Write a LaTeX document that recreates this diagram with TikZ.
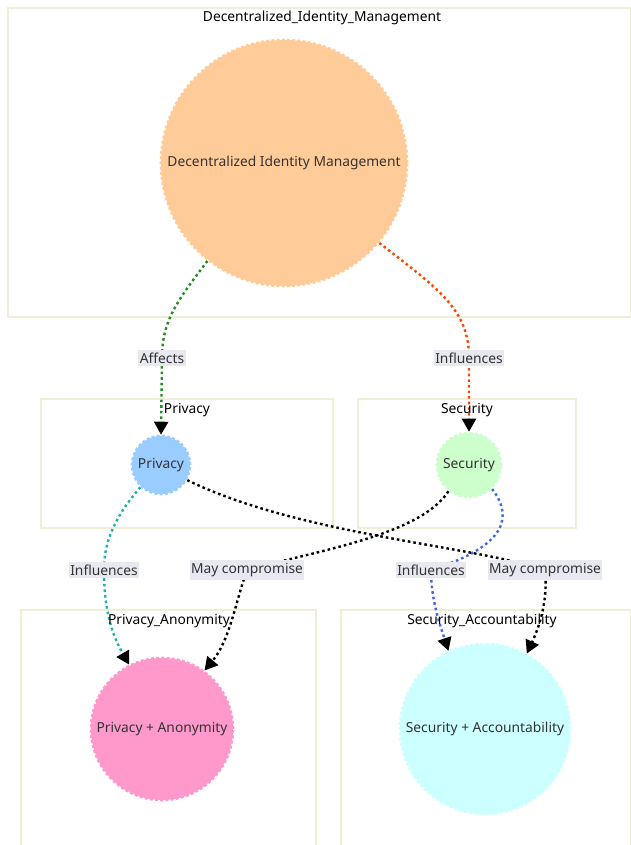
\documentclass[tikz,border=0pt]{standalone}
\usepackage{fontspec}
\setmainfont{Noto Sans}
\usetikzlibrary{arrows.meta}
\pgfdeclarelayer{background}
\pgfsetlayers{background,main}
\definecolor{clusterline}{RGB}{240,238,214}
\definecolor{labelbg}{RGB}{232,232,240}
\definecolor{txt}{RGB}{51,51,51}
\definecolor{peach}{RGB}{255,204,153}
\definecolor{skyblue}{RGB}{153,204,255}
\definecolor{mint}{RGB}{204,255,204}
\definecolor{pinkfill}{RGB}{255,153,204}
\definecolor{cyanfill}{RGB}{204,255,255}
\definecolor{edgegreen}{RGB}{34,139,34}
\definecolor{edgeorange}{RGB}{255,69,0}
\definecolor{edgeteal}{RGB}{32,178,170}
\definecolor{edgeblue}{RGB}{65,105,225}
\tikzset{
  cluster/.style={draw=clusterline, line width=1.2pt},
  ctitle/.style={text=black, font=\fontsize{13.8}{16}\selectfont, inner sep=0pt},
  blob/.style={circle, inner sep=0pt, draw=#1, fill=#1, line width=2.6pt,
    dash pattern=on 3pt off 2.2pt, text=txt, font=\fontsize{13.8}{16}\selectfont},
  elabel/.style={fill=labelbg, text=txt, font=\fontsize{13.8}{16}\selectfont,
    inner xsep=1.5pt, inner ysep=3pt},
  link/.style={draw=#1, line width=2.4pt, dash pattern=on 2.6pt off 3pt,
    -{Triangle[length=13pt,width=14pt,color=black]}},
}
\begin{document}
\begin{tikzpicture}[x=1pt,y=-1pt]
\useasboundingbox (0,0) rectangle (631,845);

% nodes
\node[blob=peach, minimum size=246pt] (dim) at (284,163) {Decentralized Identity Management};
\node[blob=skyblue, minimum size=58pt] (priv) at (161,465) {Privacy};
\node[blob=mint, minimum size=64pt] (sec) at (469,465) {Security};
\node[blob=pinkfill, minimum size=142pt] (pa) at (162,729) {Privacy + Anonymity};
\node[blob=cyanfill, minimum size=170pt] (sa) at (485,729) {Security + Accountability};

% edge labels
\node[elabel] (lAffects) at (162,358) {Affects};
\node[elabel] (lInflSec) at (469,358) {Influences};
\node[elabel] (lInflPA) at (104,570) {Influences};
\node[elabel] (lMayPA) at (247,570) {May compromise};
\node[elabel] (lInflSA) at (431,570) {Influences};
\node[elabel] (lMaySA) at (545,570) {May compromise};

\begin{pgfonlayer}{background}
  % cluster frames
  \draw[cluster] (8,8) rectangle (630.5,317);
  \draw[cluster] (41,399) rectangle (333,528);
  \draw[cluster] (358,399) rectangle (576,528);
  \draw[cluster] (21,610) rectangle (316,850);
  \draw[cluster] (341,610) rectangle (630.5,850);

  % connectors
  \draw[link=edgegreen] (dim.232) .. controls (178,300) and (162,320) .. (lAffects.center) -- (priv.north);
  \draw[link=edgeorange] (dim.320) .. controls (440,290) and (469,310) .. (lInflSec.center) -- (sec.north);
  \draw[link=edgeteal] (priv.227) .. controls (112,520) and (104,545) .. (lInflPA.center)
        .. controls (104,610) and (112,635) .. (pa.117);
  \draw[link=black] (sec.232) .. controls (420,535) and (320,550) .. (lMayPA.center)
        .. controls (236,600) and (230,640) .. (pa.54);
  \draw[link=edgeblue] (sec.314) .. controls (512,515) and (510,545) .. (lInflSA.center)
        .. controls (431,600) and (440,625) .. (sa.115);
  \draw[link=black] (priv.330) .. controls (300,535) and (470,545) .. (lMaySA.center)
        .. controls (548,600) and (540,625) .. (sa.61);
\end{pgfonlayer}

% cluster titles
\node[ctitle] (tDim) at (322,18) {Decentralized\_Identity\_Management};
\node[ctitle] (tPriv) at (187,410) {Privacy};
\node[ctitle] (tSec) at (467,410) {Security};
\node[ctitle] (tPA) at (169,621) {Privacy\_Anonymity};
\node[ctitle] (tSA) at (482,621) {Security\_Accountability};
\end{tikzpicture}
\end{document}
